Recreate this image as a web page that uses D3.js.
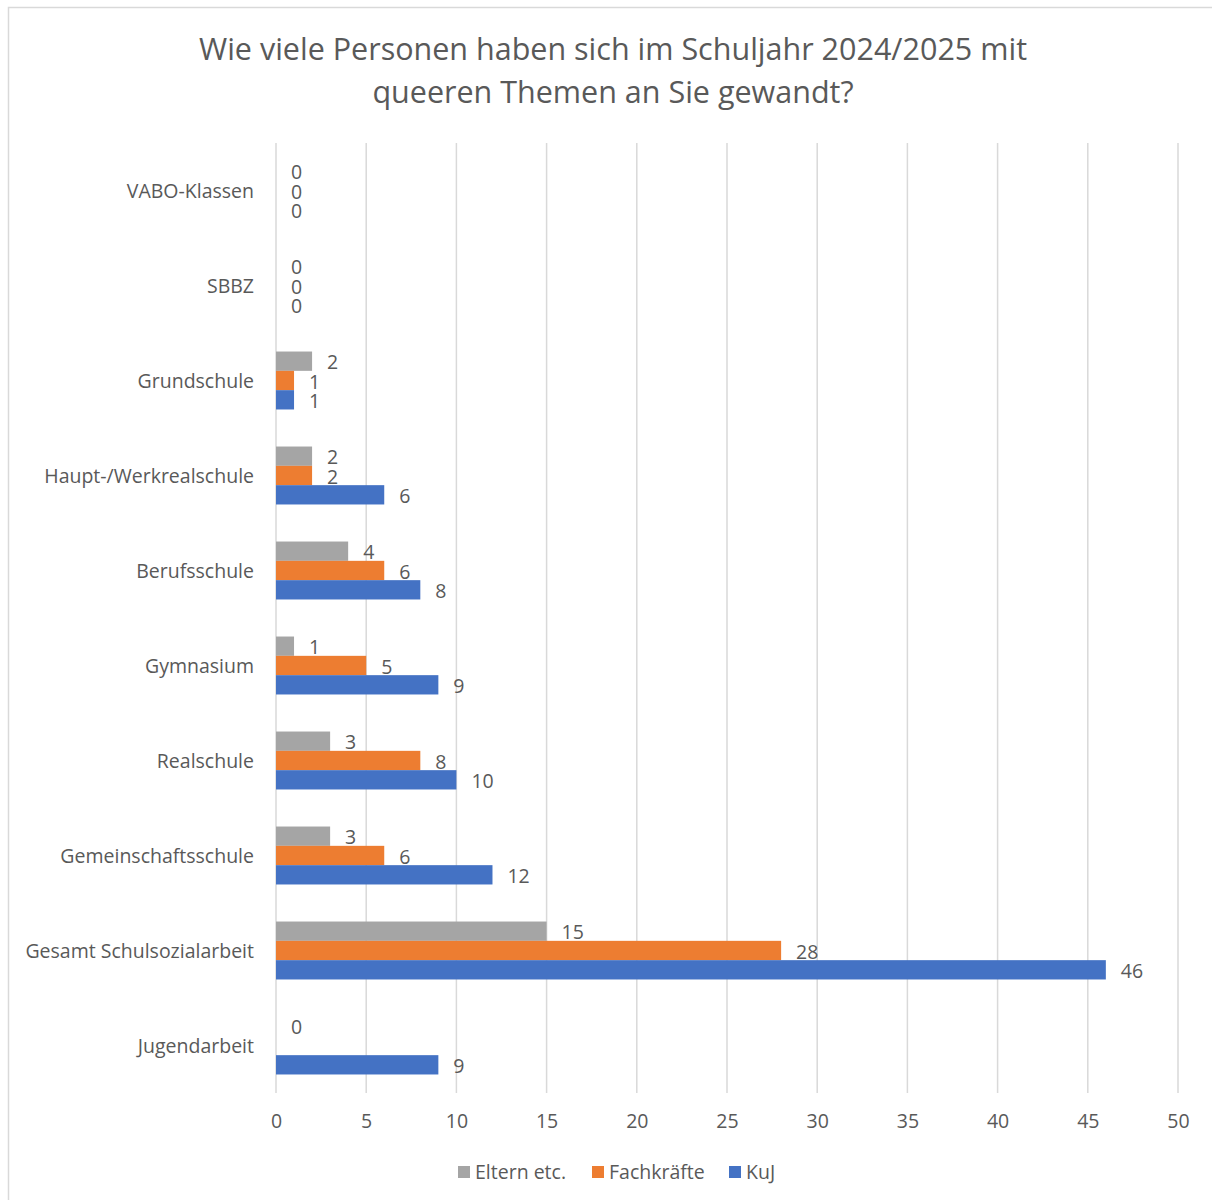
<!DOCTYPE html>
<html>
<head>
<meta charset="utf-8">
<script src="https://cdn.jsdelivr.net/npm/d3@7"></script>
<style>
  body { margin: 0; background: #fff; }
  svg { display: block; font-family: 'Open Sans', sans-serif; }
</style>
</head>
<body>
<div id="chart"></div>
<script>
'use strict';

// categories, top to bottom as shown
const categories = [
  'VABO-Klassen', 'SBBZ', 'Grundschule', 'Haupt-/Werkrealschule',
  'Berufsschule', 'Gymnasium', 'Realschule', 'Gemeinschaftsschule',
  'Gesamt Schulsozialarbeit', 'Jugendarbeit'
];
const seriesNames = ['Eltern etc.', 'Fachkräfte', 'KuJ'];
const eltern = [0, 0, 2, 2, 4, 1, 3, 3, 15, 0];
const fachkraefte = [0, 0, 1, 2, 6, 5, 8, 6, 28, null];
const kuj = [0, 0, 1, 6, 8, 9, 10, 12, 46, 9];
const xTicks = [0, 5, 10, 15, 20, 25, 30, 35, 40, 45, 50];
const colours = ['#A5A5A5', '#ED7D31', '#4472C4'];

const width = 1212;
const height = 1200;
const margin = {top: 143, left: 276, right: 34, bottom: 107};
const textColour = '#595959';
const labelSize = '19.5px';

let svg = d3.select('#chart')
  .append('svg')
  .attr('width', width)
  .attr('height', height);

// outer chart border (only top and left visible in the crop)
svg.append('rect')
  .attr('x', 8.5)
  .attr('y', 7.5)
  .attr('width', width + 20)
  .attr('height', height + 20)
  .attr('fill', 'none')
  .attr('stroke', '#D9D9D9')
  .attr('stroke-width', 1.5);

svg.append('text')
  .attr('x', 613)
  .attr('text-anchor', 'middle')
  .attr('fill', textColour)
  .attr('font-size', '30.5px')
  .attr('textLength', null)
  .selectAll('tspan')
  .data(['Wie viele Personen haben sich im Schuljahr 2024/2025 mit',
         'queeren Themen an Sie gewandt?'])
  .join('tspan')
  .attr('x', 613)
  .attr('y', (d, i) => 60 + i * 43)
  .text(d => d);

let x = d3.scaleLinear()
  .domain([0, 50])
  .range([margin.left, width - margin.right]);

let y = d3.scaleBand()
  .domain(categories)
  .range([margin.top, height - margin.bottom])
  .paddingInner(0.39)
  .paddingOuter(0.195);

let ySub = d3.scaleBand()
  .domain(seriesNames)
  .range([0, y.bandwidth()]);

// gridlines
svg.append('g')
  .selectAll('line')
  .data(xTicks)
  .join('line')
  .attr('x1', d => x(d))
  .attr('x2', d => x(d))
  .attr('y1', margin.top)
  .attr('y2', height - margin.bottom)
  .attr('stroke', '#D9D9D9')
  .attr('stroke-width', 1.5);

// x axis labels
let xAxis = svg.append('g')
  .attr('transform', 'translate(0,' + (height - margin.bottom) + ')')
  .call(d3.axisBottom(x).tickValues(xTicks).tickSize(0).tickPadding(21));
xAxis.select('.domain').remove();
xAxis.selectAll('text')
  .attr('fill', textColour)
  .attr('font-size', labelSize)
  .attr('font-family', "'Open Sans', sans-serif");

// y axis labels
let yAxis = svg.append('g')
  .attr('transform', 'translate(' + margin.left + ',1)')
  .call(d3.axisLeft(y).tickSize(0).tickPadding(22));
yAxis.select('.domain').remove();
yAxis.selectAll('text')
  .attr('fill', textColour)
  .attr('font-size', labelSize)
  .attr('font-family', "'Open Sans', sans-serif");

let rows = [];
categories.forEach(function(cat, i) {
  [eltern, fachkraefte, kuj].forEach(function(values, j) {
    rows.push({category: cat, series: seriesNames[j], value: values[i], colour: colours[j]});
  });
});
let present = rows.filter(d => d.value !== null);

let bars = svg.append('g');
bars.selectAll('rect')
  .data(present.filter(d => d.value > 0))
  .join('rect')
  .attr('x', x(0))
  .attr('y', d => y(d.category) + ySub(d.series))
  .attr('width', d => x(d.value) - x(0))
  .attr('height', ySub.bandwidth())
  .attr('fill', d => d.colour);

bars.selectAll('text')
  .data(present)
  .join('text')
  .attr('x', d => x(d.value) + 15)
  .attr('y', d => y(d.category) + ySub(d.series) + ySub.bandwidth() / 2 + 1)
  .attr('dy', '0.36em')
  .attr('fill', textColour)
  .attr('font-size', labelSize)
  .text(d => d.value);

// legend
let legend = svg.append('g')
  .attr('transform', 'translate(0,1172)');
let legendX = [458, 592, 729];
let items = legend.selectAll('g')
  .data(seriesNames)
  .join('g')
  .attr('transform', (d, i) => 'translate(' + legendX[i] + ',0)');
items.append('rect')
  .attr('x', 0)
  .attr('y', -6)
  .attr('width', 12)
  .attr('height', 12)
  .attr('fill', (d, i) => colours[i]);
items.append('text')
  .attr('x', 17)
  .attr('dy', '0.36em')
  .attr('fill', textColour)
  .attr('font-size', labelSize)
  .text(d => d);
</script>
</body>
</html>
